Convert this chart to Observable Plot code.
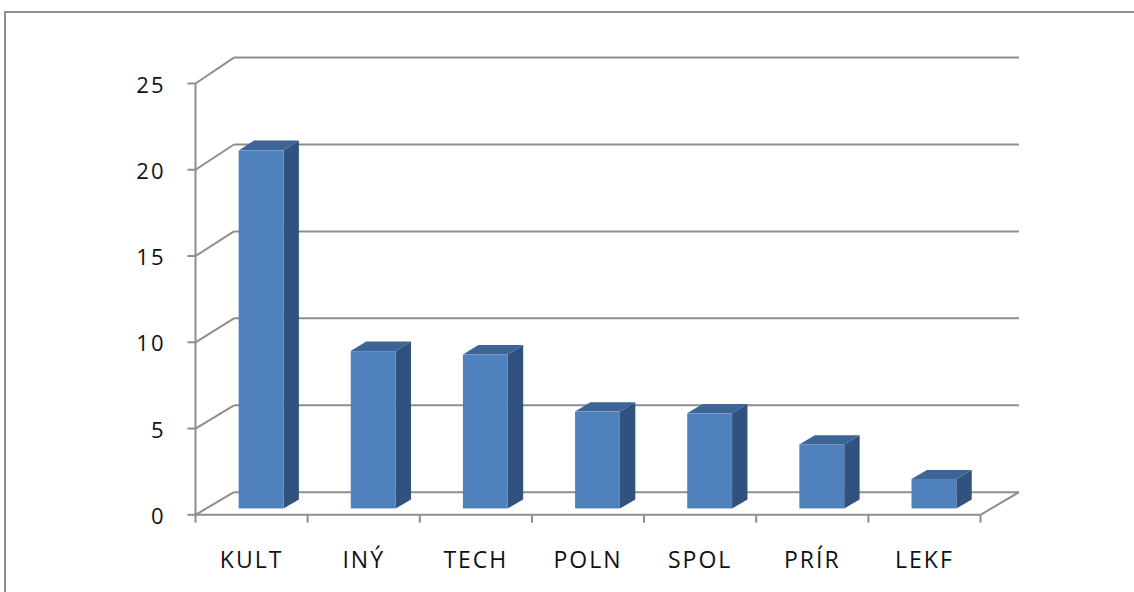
<!DOCTYPE html>
<html>
<head>
<meta charset="utf-8">
<script src="https://cdn.jsdelivr.net/npm/d3@7"></script>
<script src="https://cdn.jsdelivr.net/npm/@observablehq/plot@0.6"></script>
<style>
  html, body { margin: 0; padding: 0; background: #fff; overflow: hidden; }
  #wrap { position: relative; width: 1134px; height: 592px; }
  #border { position: absolute; left: 4px; top: 11px; width: 1200px; height: 700px;
            border-top: 2px solid #8e8e8e; border-left: 2px solid #8e8e8e; box-sizing: border-box; }
  #chart { position: absolute; left: 0; top: 0; }
  #chart svg text { letter-spacing: 2px; }
</style>
</head>
<body>
<div id="wrap">
  <div id="border"></div>
  <div id="chart"></div>
</div>
<script>
// ---- data ----
const categories = ["KULT", "INÝ", "TECH", "POLN", "SPOL", "PRÍR", "LEKF"];
const values = [20.7, 9.1, 8.9, 5.6, 5.5, 3.7, 1.7];
const yTicks = [0, 5, 10, 15, 20, 25];

// ---- 3D projection (depth vector expressed in scale units) ----
const DX = 0.343;      // depth shift along x (category units)
const DY = 1.31;       // depth shift along y (value units)
const PERSP = 0.0077;  // slight perspective of the back wall
const proj = (v, t) => v * (1 + t * PERSP) + t * DY;
const F0 = 0.26, F1 = 0.66;     // bar front / back depth
const BAR0 = 0.3, BAR1 = 0.7;   // bar extent inside category slot
const TICKX = 0.0713, TICKY = 0.46;

const bars = categories.map((c, i) => ({c, i, v: values[i]}));
const sidePts = bars.flatMap(d => [F0, F1].map(t => ({
  c: d.c, x: d.i + BAR1 + t * DX, y1: proj(0, t), y2: proj(d.v, t)
})));
const topPts = bars.flatMap(d => [F0, F1].map(t => ({
  c: d.c, y: proj(d.v, t), x1: d.i + BAR0 + t * DX, x2: d.i + BAR1 + t * DX
})));
const bounds = d3.range(categories.length + 1);

const gray = "#8e8e8e";
const lineW = 2;

const chart = Plot.plot({
  width: 1134,
  height: 592,
  marginLeft: 195,
  marginRight: 154,
  marginTop: 83,
  marginBottom: 77.7,
  style: {background: "transparent", fontFamily: "'Open Sans', sans-serif", fontSize: "22px", overflow: "visible", color: "#111"},
  x: {domain: [0, categories.length], axis: null},
  y: {domain: [0, 25], axis: null},
  marks: [
    // back wall gridlines
    Plot.link(yTicks, {x1: DX, x2: categories.length + DX, y1: v => proj(v, 1), y2: v => proj(v, 1), stroke: gray, strokeWidth: lineW}),
    // left wall diagonals
    Plot.link(yTicks, {x1: 0, y1: v => v, x2: DX, y2: v => proj(v, 1), stroke: gray, strokeWidth: lineW}),
    // right floor diagonal
    Plot.link([categories.length], {x1: d => d, y1: 0, x2: d => d + DX, y2: proj(0, 1), stroke: gray, strokeWidth: lineW}),
    // front axes
    Plot.ruleX([0], {y1: 0, y2: 25, stroke: gray, strokeWidth: lineW}),
    Plot.ruleY([0], {x1: 0, x2: categories.length, stroke: gray, strokeWidth: lineW}),
    // y ticks
    Plot.link(yTicks, {x1: -TICKX, x2: 0, y1: v => v, y2: v => v, stroke: gray, strokeWidth: lineW}),
    // x ticks (category boundaries)
    Plot.link(bounds, {x1: d => d, x2: d => d, y1: 0, y2: -TICKY, stroke: gray, strokeWidth: lineW}),
    // bars: side, top, front
    Plot.areaY(sidePts, {x: "x", y1: "y1", y2: "y2", z: "c", fill: "#31527e"}),
    Plot.areaX(topPts, {y: "y", x1: "x1", x2: "x2", z: "c", fill: "#3c6497"}),
    Plot.rectY(bars, {x1: d => d.i + BAR0 + F0 * DX, x2: d => d.i + BAR1 + F0 * DX,
                      y1: proj(0, F0), y2: d => proj(d.v, F0), fill: "#4f81bd"}),
    // labels
    Plot.text(yTicks, {x: 0, y: v => v, text: v => String(v), textAnchor: "end", dx: -30, dy: 2, fill: "#111", fontSize: 22}),
    Plot.text(bars, {x: d => d.i + 0.5, y: 0, text: "c", dy: 46, fill: "#111", fontSize: 23})
  ]
});
document.getElementById("chart").appendChild(chart);
</script>
</body>
</html>
